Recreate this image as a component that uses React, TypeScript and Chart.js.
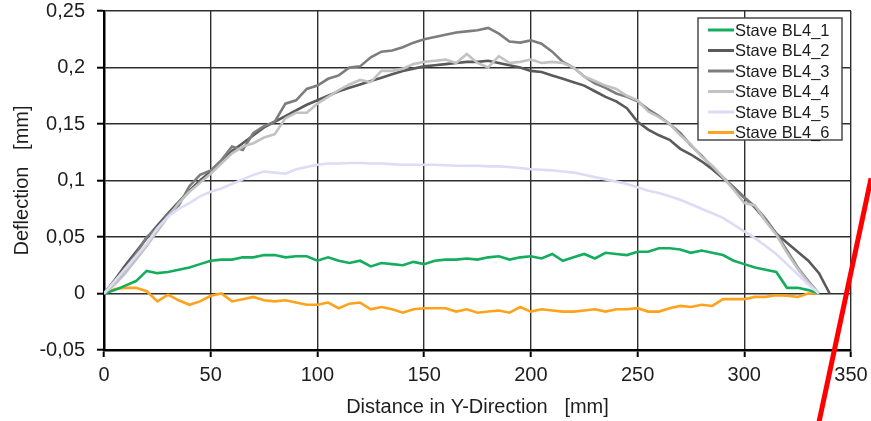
import React, { useEffect, useRef } from 'react';
import { Chart, registerables } from 'chart.js';

Chart.register(...registerables);

// Distance in Y-direction [mm]
const distances = [
  0, 5, 10, 15, 20, 25, 30, 35, 40, 45,
  50, 55, 60, 65, 70, 75, 80, 85, 90, 95,
  100, 105, 110, 115, 120, 125, 130, 135, 140, 145,
  150, 155, 160, 165, 170, 175, 180, 185, 190, 195,
  200, 205, 210, 215, 220, 225, 230, 235, 240, 245,
  250, 255, 260, 265, 270, 275, 280, 285, 290, 295,
  300, 305, 310, 315, 320, 325, 330, 335, 340,
];

const seriesNames = ['Stave BL4_1', 'Stave BL4_2', 'Stave BL4_3', 'Stave BL4_4', 'Stave BL4_5', 'Stave BL4_6'];
const seriesColors = ['#14ad5e', '#5a5a5a', '#7d7d7d', '#c2c2c2', '#dcdcf7', '#ffa21c'];

const bl4_1 = [
  0, 0.003, 0.007, 0.011, 0.020, 0.018, 0.019, 0.021, 0.023, 0.026,
  0.029, 0.030, 0.030, 0.032, 0.032, 0.034, 0.034, 0.032, 0.033, 0.033,
  0.029, 0.032, 0.029, 0.027, 0.029, 0.024, 0.027, 0.026, 0.025, 0.028,
  0.026, 0.029, 0.030, 0.030, 0.031, 0.030, 0.032, 0.033, 0.030, 0.032,
  0.033, 0.031, 0.035, 0.029, 0.032, 0.035, 0.031, 0.036, 0.035, 0.034,
  0.037, 0.037, 0.040, 0.040, 0.039, 0.036, 0.038, 0.036, 0.034, 0.029,
  0.026, 0.023, 0.021, 0.019, 0.005, 0.005, 0.003, 0.0,
];
const bl4_2 = [
  0, 0.012, 0.025, 0.037, 0.049, 0.060, 0.071, 0.081, 0.091, 0.100,
  0.108, 0.117, 0.126, 0.133, 0.140, 0.147, 0.152, 0.157, 0.162, 0.167,
  0.171, 0.175, 0.179, 0.182, 0.185, 0.188, 0.191, 0.194, 0.197, 0.199,
  0.201, 0.202, 0.203, 0.204, 0.205, 0.205, 0.206, 0.204, 0.202, 0.200,
  0.197, 0.196, 0.193, 0.190, 0.187, 0.184, 0.179, 0.174, 0.170, 0.164,
  0.152, 0.145, 0.140, 0.136, 0.128, 0.123, 0.117, 0.110, 0.102, 0.094,
  0.085, 0.076, 0.065, 0.053, 0.045, 0.037, 0.029, 0.018, 0.0,
];
const bl4_3 = [
  0, 0.010, 0.022, 0.035, 0.050, 0.058, 0.070, 0.078, 0.095, 0.105,
  0.109, 0.118, 0.130, 0.127, 0.142, 0.148, 0.152, 0.168, 0.171, 0.181,
  0.184, 0.190, 0.193, 0.200, 0.201, 0.209, 0.214, 0.215, 0.218, 0.222,
  0.225, 0.227, 0.229, 0.231, 0.232, 0.233, 0.235, 0.230, 0.223, 0.222,
  0.224, 0.221, 0.214, 0.205, 0.200, 0.192, 0.186, 0.182, 0.177, 0.174,
  0.170, 0.163, 0.157, 0.150, 0.142, 0.131, 0.122, 0.112, 0.103, 0.094,
  0.085, 0.077, 0.066, 0.053, 0.038, 0.023, 0.011, 0.0,
];
const bl4_4 = [
  0, 0.008, 0.018, 0.030, 0.042, 0.055, 0.068, 0.080, 0.090, 0.098,
  0.106, 0.115, 0.124, 0.130, 0.133, 0.138, 0.141, 0.155, 0.160, 0.160,
  0.168, 0.174, 0.180, 0.185, 0.189, 0.187, 0.197, 0.197, 0.199, 0.203,
  0.205, 0.206, 0.207, 0.204, 0.212, 0.204, 0.200, 0.210, 0.204, 0.205,
  0.207, 0.204, 0.205, 0.204, 0.200, 0.192, 0.188, 0.184, 0.181, 0.175,
  0.171, 0.161, 0.156, 0.150, 0.140, 0.132, 0.121, 0.113, 0.103, 0.092,
  0.080, 0.078, 0.064, 0.052, 0.036, 0.022, 0.010, 0.0,
];
const bl4_5 = [
  0, 0.011, 0.022, 0.033, 0.044, 0.058, 0.068, 0.075, 0.080, 0.086,
  0.090, 0.093, 0.097, 0.101, 0.105, 0.108, 0.107, 0.106, 0.110, 0.112,
  0.114, 0.115, 0.115, 0.1155, 0.1155, 0.115, 0.115, 0.1145, 0.114, 0.114,
  0.114, 0.114, 0.1135, 0.113, 0.113, 0.113, 0.1125, 0.1125, 0.112, 0.111,
  0.110, 0.1095, 0.109, 0.108, 0.107, 0.105, 0.103, 0.101, 0.099, 0.097,
  0.094, 0.091, 0.089, 0.086, 0.083, 0.079, 0.075, 0.071, 0.067, 0.061,
  0.055, 0.049, 0.042, 0.035, 0.026, 0.017, 0.008, 0.0,
];
const bl4_6 = [
  0, 0.004, 0.005, 0.005, 0.002, -0.007, -0.001, -0.006, -0.010, -0.007,
  -0.002, 0.000, -0.007, -0.005, -0.003, -0.006, -0.007, -0.006, -0.008, -0.010,
  -0.010, -0.008, -0.013, -0.009, -0.008, -0.014, -0.012, -0.014, -0.017, -0.014,
  -0.013, -0.013, -0.013, -0.016, -0.014, -0.017, -0.016, -0.015, -0.017, -0.012,
  -0.016, -0.014, -0.015, -0.016, -0.016, -0.015, -0.014, -0.016, -0.014, -0.014,
  -0.013, -0.016, -0.016, -0.013, -0.011, -0.012, -0.010, -0.011, -0.005, -0.005,
  -0.005, -0.003, -0.003, -0.0015, -0.002, -0.003, 0.0, 0.0,
];

// red hand-drawn annotation stroke (data units)
const markX = [359.4, 334.3];
const markY = [0.102, -0.12];

const xTickValues = [0, 50, 100, 150, 200, 250, 300, 350];
const yTickValues = [-0.05, 0, 0.05, 0.1, 0.15, 0.2, 0.25];

const FONT = "'Liberation Sans', Arial, sans-serif";

const toPoints = (vals: number[]) => vals.map((v, i) => ({ x: distances[i], y: v }));

const legendPlugin = {
  id: 'boxLegend',
  afterDraw(chart: any) {
    const { ctx, chartArea } = chart;
    const w = 144;
    const h = 122;
    const left = chartArea.right - 153;
    const top = chartArea.top + 7;
    ctx.save();
    ctx.fillStyle = '#ffffff';
    ctx.fillRect(left, top, w, h);
    ctx.strokeStyle = '#4a4a4a';
    ctx.lineWidth = 1.5;
    ctx.strokeRect(left, top, w, h);
    ctx.font = `16.5px ${FONT}`;
    ctx.textBaseline = 'middle';
    ctx.textAlign = 'left';
    seriesNames.forEach((name, i) => {
      const cy = top + 12 + i * 20.5;
      ctx.strokeStyle = seriesColors[i];
      ctx.lineWidth = 3;
      ctx.beginPath();
      ctx.moveTo(left + 10, cy);
      ctx.lineTo(left + 36, cy);
      ctx.stroke();
      ctx.fillStyle = '#1a1a1a';
      ctx.fillText(name, left + 37, cy + 1);
    });
    ctx.restore();
  },
};

export default function App() {
  const canvasRef = useRef<HTMLCanvasElement | null>(null);

  useEffect(() => {
    const canvas = canvasRef.current;
    if (!canvas) return;
    const series = [bl4_1, bl4_2, bl4_3, bl4_4, bl4_5, bl4_6];
    const order = [4, 3, 2, 1, 0, 5];
    const datasets: any[] = order.map((idx) => ({
      label: seriesNames[idx],
      data: toPoints(series[idx]),
      borderColor: seriesColors[idx],
      backgroundColor: seriesColors[idx],
      borderWidth: 2.6,
      pointRadius: 0,
      tension: 0,
      fill: false,
    }));
    datasets.push({
      label: 'mark',
      data: markX.map((x, i) => ({ x, y: markY[i] })),
      borderColor: '#ff0000',
      borderWidth: 5,
      pointRadius: 0,
      clip: false,
      fill: false,
    });

    const chart = new Chart(canvas, {
      type: 'line',
      data: { datasets },
      plugins: [legendPlugin],
      options: {
        animation: false,
        responsive: true,
        maintainAspectRatio: false,
        layout: { padding: { left: 0, right: 20, top: 11, bottom: 0 } },
        plugins: {
          legend: { display: false },
          tooltip: { enabled: false },
        },
        scales: {
          x: {
            type: 'linear',
            min: 0,
            max: 350,
            afterFit: (s: any) => {
              s.height = 71;
              s.paddingLeft = 0;
              s.paddingRight = 0;
            },
            afterBuildTicks: (s: any) => {
              s.ticks = xTickValues.map((v) => ({ value: v }));
            },
            grid: {
              color: '#2e2e2e',
              lineWidth: 1.4,
              drawTicks: true,
              tickLength: 7,
              tickColor: '#000',
              tickWidth: 2,
            },
            border: { color: '#000', width: 2.5 },
            ticks: {
              color: '#1e1e1e',
              font: { family: FONT, size: 20 },
              padding: 6,
              maxRotation: 0,
              autoSkip: false,
            },
            title: {
              display: true,
              text: 'Distance in Y-Direction   [mm]',
              color: '#1e1e1e',
              font: { family: FONT, size: 20 },
              padding: { top: 0, bottom: 2 },
            },
          },
          y: {
            type: 'linear',
            min: -0.05,
            max: 0.25,
            afterFit: (s: any) => {
              s.width = 104;
              s.paddingTop = 0;
              s.paddingBottom = 0;
            },
            afterBuildTicks: (s: any) => {
              s.ticks = yTickValues.map((v) => ({ value: v }));
            },
            grid: {
              color: '#2e2e2e',
              lineWidth: 1.4,
              drawTicks: true,
              tickLength: 7,
              tickColor: '#000',
              tickWidth: 2,
            },
            border: { color: '#000', width: 2.5 },
            ticks: {
              color: '#1e1e1e',
              font: { family: FONT, size: 20 },
              padding: 12,
              autoSkip: false,
              callback: (v: any) => {
                const n = Number(Number(v).toFixed(2));
                return String(n).replace('.', ',');
              },
            },
            title: {
              display: true,
              text: 'Deflection   [mm]',
              color: '#1e1e1e',
              font: { family: FONT, size: 20 },
              padding: { top: 10, bottom: 0 },
            },
          },
        },
      } as any,
    });
    return () => chart.destroy();
  }, []);

  return (
    <div style={{ position: 'absolute', left: 0, top: 0, width: 871, height: 421, background: '#fff' }}>
      <canvas ref={canvasRef} />
    </div>
  );
}
